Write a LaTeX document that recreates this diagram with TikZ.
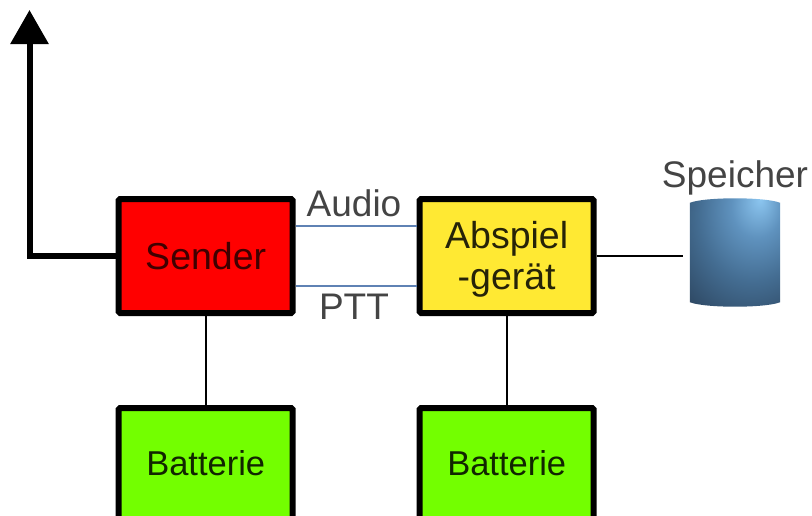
\documentclass[tikz,border=0pt]{standalone}
\usepackage{fontspec}
\setmainfont{Liberation Sans}
\usepackage{tikz}
\usetikzlibrary{arrows.meta, positioning}
\definecolor{senderred}{HTML}{FF0000}
\definecolor{playeryellow}{HTML}{FFE933}
\definecolor{batterygreen}{HTML}{73FF00}
\definecolor{audioblue}{HTML}{5F82B4}
\definecolor{labelgray}{HTML}{444444}
\definecolor{storeA}{HTML}{8CC6F0}
\definecolor{storeB}{HTML}{5F92BE}
\definecolor{storeC}{HTML}{446D92}
\definecolor{storeD}{HTML}{2C455F}
\pgfdeclareradialshading{storeshade}{\pgfpoint{14bp}{24bp}}{
  color(0bp)=(storeA);
  color(14bp)=(storeB);
  color(30bp)=(storeC);
  color(50bp)=(storeD);
  color(100bp)=(storeD)
}
\begin{document}
\begin{tikzpicture}[
  x=1pt, y=-1pt,
  box/.style={
    rectangle, draw, line width=6pt, rounded corners=1.5pt,
    minimum width=174pt, minimum height=114pt,
    align=center, font=\fontsize{37.5}{41}\selectfont
  },
  battery/.style={box, minimum height=111pt, fill=batterygreen, text=black!85!batterygreen,
    font=\fontsize{34.5}{40}\selectfont},
  thinline/.style={line width=2pt},
  audioline/.style={line width=2pt, draw=audioblue},
  txlabel/.style={font=\fontsize{37}{40}\selectfont, text=labelgray, inner sep=0pt},
  arr/.style={-{Triangle[length=34pt,width=37pt]}, line width=6pt}
]
\clip (0,0) rectangle (812,515);

\node[box, fill=senderred, text=red!25!black] (sender) at (205.7,256) {Sender};
\node[box, fill=playeryellow, right=121pt of sender, text=black!85!playeryellow] (player) {\rule{0pt}{33.5pt}Abspiel\\-gerät};
\node[battery, below=89pt of sender] (bat1) {Batterie};
\node[battery, below=89pt of player] (bat2) {Batterie};

\node[minimum width=90pt, minimum height=109pt, inner sep=0pt] (store) at (735,252.5) {};
\shade[shading=storeshade] ([yshift=-5pt]store.north west)
  .. controls ([xshift=15pt,yshift=1pt]store.north west) and ([xshift=-15pt,yshift=1pt]store.north east)
  .. ([yshift=-5pt]store.north east)
  -- ([yshift=5pt]store.south east)
  .. controls ([xshift=-15pt,yshift=-1pt]store.south east) and ([xshift=15pt,yshift=-1pt]store.south west)
  .. ([yshift=5pt]store.south west) -- cycle;
\node[txlabel, above=2pt of store] (storelabel) {Speicher};

\coordinate (antenna) at (29.5,10);
\coordinate (corner) at (29.5,256);

\node[txlabel, anchor=base] (audio) at (354,216) {Audio};
\node[txlabel, anchor=base] (ptt) at (354,319) {PTT};

\draw[arr] (sender.west) -- (corner) -- (antenna);
\draw[audioline] ([yshift=30pt]sender.east) -- ([yshift=30pt]player.west);
\draw[audioline] ([yshift=-30pt]sender.east) -- ([yshift=-30pt]player.west);
\draw[thinline] (player.east) -- ([xshift=-7pt]player.east -| store.west);
\draw[thinline] (sender.south) -- (bat1.north);
\draw[thinline] (player.south) -- (bat2.north);

\end{tikzpicture}
\end{document}
